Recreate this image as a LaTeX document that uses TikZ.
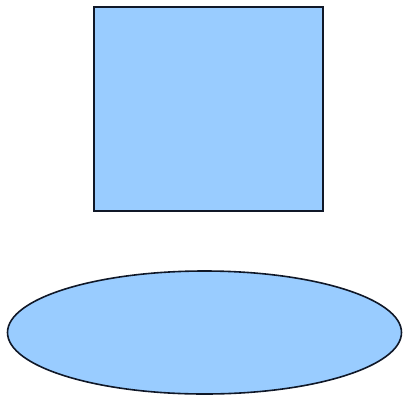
\documentclass[tikz,border=0pt]{standalone}
\definecolor{shapefill}{HTML}{99CCFF}
\definecolor{shapeline}{HTML}{101828}
\begin{document}
\begin{tikzpicture}[x=1pt,y=-1pt,
  shapestyle/.style={fill=shapefill,draw=shapeline,line width=1.6pt}]
\useasboundingbox (0,0) rectangle (404,397);
\fill[white] (0,0) rectangle (404,397);
\node[shapestyle,minimum width=229pt,minimum height=204pt,inner sep=0pt,anchor=north west] (sq) at (93,6) {};
\draw[shapestyle] (204.5,332.5) ellipse [x radius=197, y radius=61.5];
\end{tikzpicture}
\end{document}
